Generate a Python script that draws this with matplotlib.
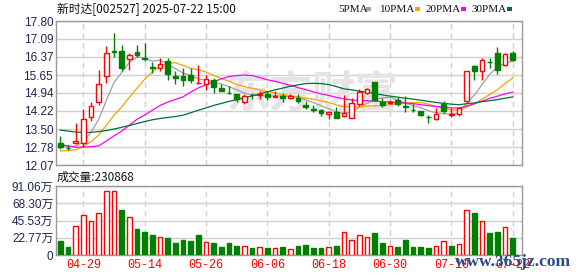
import matplotlib
matplotlib.use('Agg')
import matplotlib.pyplot as plt
from matplotlib.patches import Rectangle
import numpy as np

plt.rcParams['font.family'] = ['Liberation Sans', 'Noto Sans CJK SC']

# daily candles, 2025-04-24 .. 2025-07-22
opens = [12.96, 12.75, 12.94, 12.94, 13.99, 14.59, 15.60, 16.61, 16.61, 16.29,
         16.57, 16.34, 15.95, 15.94, 16.21, 15.60, 15.60, 15.65, 15.33, 15.28,
         15.47, 15.12, 14.95, 14.90, 14.56, 14.86, 14.85, 14.91, 14.78, 14.83,
         14.72, 14.73, 14.44, 14.28, 14.25, 14.10, 14.16, 14.00, 13.96, 14.49,
         14.95, 15.39, 14.56, 14.55, 14.65, 14.40, 14.26, 14.20, 13.99, 13.89,
         14.48, 14.07, 14.08, 14.61, 15.99, 15.83, 16.18, 16.52, 16.06, 16.52]
highs = [13.21, 12.88, 13.75, 14.28, 14.56, 15.87, 16.82, 17.33, 16.84, 16.53,
         16.86, 16.93, 16.17, 16.34, 16.34, 15.81, 15.91, 15.94, 16.03, 15.64,
         15.52, 15.28, 15.22, 14.91, 14.91, 14.95, 15.00, 15.00, 15.00, 14.95,
         14.91, 14.91, 14.62, 14.47, 14.29, 14.22, 14.39, 14.86, 14.72, 15.08,
         15.12, 15.39, 14.73, 14.65, 14.76, 14.81, 14.48, 14.22, 14.04, 14.35,
         14.61, 14.35, 14.39, 15.82, 16.06, 16.33, 16.33, 16.78, 16.53, 16.59]
lows = [12.71, 12.66, 12.91, 12.78, 13.81, 14.45, 15.35, 16.36, 15.81, 15.85,
        16.36, 16.21, 15.74, 15.81, 15.44, 15.28, 15.22, 15.35, 15.31, 15.04,
        14.95, 15.00, 14.89, 14.56, 14.49, 14.69, 14.69, 14.65, 14.76, 14.56,
        14.69, 14.52, 14.29, 14.16, 14.00, 13.90, 13.94, 13.99, 13.94, 14.43,
        14.89, 14.62, 14.39, 14.49, 14.43, 14.16, 14.17, 14.00, 13.75, 13.86,
        14.15, 13.98, 14.02, 14.58, 15.44, 15.47, 15.93, 15.70, 15.99, 16.19]
closes = [12.77, 12.73, 13.02, 13.92, 14.43, 15.31, 16.53, 16.55, 15.91, 16.43,
          16.44, 16.30, 15.92, 16.10, 15.68, 15.52, 15.44, 15.44, 15.35, 15.48,
          15.18, 15.02, 14.93, 14.69, 14.82, 14.84, 14.89, 14.78, 14.81, 14.72,
          14.81, 14.62, 14.36, 14.26, 14.12, 14.19, 13.96, 14.12, 14.52, 14.99,
          15.08, 14.65, 14.47, 14.59, 14.50, 14.38, 14.24, 14.04, 13.97, 14.11,
          14.21, 14.11, 14.35, 15.82, 15.80, 16.26, 16.16, 15.86, 16.50, 16.23]

ma5 = [12.86, 12.80, 12.82, 12.98, 13.37, 13.88, 14.64, 15.35, 15.75, 16.15,
       16.37, 16.33, 16.20, 16.24, 16.09, 15.90, 15.73, 15.64, 15.49, 15.45,
       15.38, 15.29, 15.19, 15.06, 14.93, 14.86, 14.83, 14.80, 14.83, 14.81,
       14.80, 14.75, 14.66, 14.55, 14.43, 14.31, 14.18, 14.13, 14.18, 14.36,
       14.53, 14.67, 14.74, 14.76, 14.66, 14.52, 14.44, 14.35, 14.23, 14.15,
       14.11, 14.09, 14.15, 14.52, 14.86, 15.27, 15.68, 15.98, 16.12, 16.20]
ma10 = [12.63, 12.64, 12.68, 12.81, 12.99, 13.26, 13.65, 14.05, 14.38, 14.76,
        15.13, 15.48, 15.77, 15.99, 16.12, 16.14, 16.03, 15.92, 15.86, 15.77,
        15.64, 15.51, 15.41, 15.27, 15.19, 15.12, 15.06, 15.00, 14.94, 14.87,
        14.83, 14.79, 14.73, 14.69, 14.62, 14.56, 14.46, 14.40, 14.37, 14.39,
        14.42, 14.43, 14.44, 14.47, 14.51, 14.53, 14.55, 14.55, 14.49, 14.40,
        14.32, 14.26, 14.25, 14.37, 14.50, 14.69, 14.88, 15.07, 15.32, 15.53]
ma20 = [12.88, 12.83, 12.78, 12.78, 12.80, 12.83, 13.03, 13.23, 13.42, 13.65,
        13.89, 14.06, 14.25, 14.44, 14.57, 14.68, 14.78, 14.97, 15.14, 15.26,
        15.38, 15.50, 15.59, 15.63, 15.65, 15.63, 15.55, 15.46, 15.40, 15.32,
        15.24, 15.15, 15.07, 14.98, 14.90, 14.84, 14.76, 14.70, 14.66, 14.63,
        14.63, 14.61, 14.59, 14.58, 14.56, 14.54, 14.51, 14.47, 14.43, 14.40,
        14.37, 14.34, 14.34, 14.42, 14.51, 14.61, 14.72, 14.81, 14.90, 14.97]
ma30 = [13.46, 13.42, 13.38, 13.37, 13.37, 13.40, 13.44, 13.50, 13.57, 13.64,
        13.72, 13.80, 13.87, 13.92, 13.96, 14.00, 14.05, 14.15, 14.25, 14.34,
        14.44, 14.52, 14.60, 14.67, 14.74, 14.82, 14.90, 14.98, 15.06, 15.13,
        15.20, 15.26, 15.31, 15.32, 15.31, 15.27, 15.19, 15.10, 15.06, 15.01,
        14.96, 14.91, 14.86, 14.81, 14.77, 14.73, 14.69, 14.65, 14.60, 14.56,
        14.52, 14.49, 14.47, 14.51, 14.54, 14.59, 14.63, 14.67, 14.73, 14.78]

# volume in 万 (10k), colour flag (1 = red / up)
volume = [18.9, 11.0, 38.3, 52.8, 44.9, 55.4, 84.5, 84.5, 59.4, 49.7,
          34.3, 30.8, 26.4, 23.3, 22.4, 16.3, 19.8, 18.5, 26.4, 17.2,
          15.8, 10.6, 15.8, 11.9, 11.9, 9.2, 10.1, 9.2, 8.8, 10.6,
          7.5, 11.9, 13.2, 9.2, 9.2, 10.1, 11.9, 30.4, 19.8, 26.0,
          23.3, 29.0, 15.8, 11.4, 10.6, 19.8, 10.6, 10.6, 9.2, 11.9,
          18.5, 11.9, 14.5, 59.4, 55.9, 44.9, 29.0, 30.8, 37.0, 23.09]
vol_up = [0, 0, 1, 1, 1, 1, 1, 1, 0, 1,
          0, 0, 0, 1, 0, 0, 0, 0, 0, 1,
          0, 0, 0, 0, 1, 0, 1, 0, 1, 0,
          1, 0, 0, 0, 0, 1, 0, 1, 1, 1,
          1, 0, 0, 1, 0, 0, 0, 0, 0, 1,
          1, 0, 1, 1, 0, 1, 0, 0, 1, 0]

tick_idx = [3, 11, 19, 27, 35, 43, 51, 59]
tick_labels = ['04-29', '05-14', '05-26', '06-06', '06-18', '06-30', '07-10', '07-22']
price_ticks = [12.07, 12.78, 13.50, 14.22, 14.94, 15.65, 16.37, 17.09, 17.80]
vol_ticks = [0, 22.77, 45.53, 68.30, 91.06]
vol_tick_labels = ['0', '22.77万', '45.53万', '68.30万', '91.06万']

RED = '#ff0000'
GREEN = '#008000'
GRID = '#d0d0d0'
SPINE = '#999999'
LABEL = '#1c2456'
ma_colors = ['#a0a0a0', '#f5a300', '#ff00ff', '#006e33']

fig = plt.figure(figsize=(5.78, 2.76), dpi=100)
W, H = 578.0, 276.0
x0, x1 = 56, 522
ax = fig.add_axes([x0 / W, 1 - 165 / H, (x1 - x0) / W, 144 / H])
axv = fig.add_axes([x0 / W, 1 - 255 / H, (x1 - x0) / W, 69 / H])

n = len(closes)
xs = np.arange(n)
bw = 0.6
xlim = (-0.56, n + 0.2)


def style(a, yt, ylab):
    a.set_xlim(*xlim)
    a.set_yticks(yt)
    a.set_yticklabels(ylab)
    a.set_xticks(tick_idx)
    a.tick_params(length=0, pad=2, labelsize=8.5, labelcolor=LABEL)
    for s in a.spines.values():
        s.set_color(SPINE)
        s.set_linewidth(1)
    a.grid(axis='y', color=GRID, lw=1, ls='-')
    a.grid(axis='x', color=GRID, lw=1, ls=(0, (4, 3)))
    a.set_axisbelow(True)


# price panel
style(ax, price_ticks, ['%.2f' % v for v in price_ticks])
ax.set_ylim(price_ticks[0], price_ticks[-1])
ax.set_xticklabels([])

# faint site watermark behind the candles
ax.text(0.55, 0.49, '东方财富', transform=ax.transAxes, fontsize=31,
        color='#e4e4e4', ha='center', va='center', style='italic',
        fontweight='bold', family=['Noto Sans CJK SC'], zorder=1)

for ma, col in zip([ma5, ma10, ma20, ma30], ma_colors):
    ax.plot(xs, ma, color=col, lw=0.9, zorder=2)

for i in range(n):
    o, h, l, c = opens[i], highs[i], lows[i], closes[i]
    up = c >= o
    col = RED if up else GREEN
    ax.vlines(i, l, h, color=col, lw=1, zorder=3)
    ax.add_patch(Rectangle((i - bw / 2, min(o, c)), bw, max(abs(c - o), 0.02),
                           facecolor='white' if up else col, edgecolor=col,
                           lw=1, zorder=4))

# volume panel
style(axv, vol_ticks, vol_tick_labels)
axv.set_ylim(0, vol_ticks[-1])
axv.set_xticklabels(tick_labels, family=['Liberation Mono'], fontsize=8.5)
axv.tick_params(axis='x', labelcolor=RED, pad=3)
for i in range(n):
    col = RED if vol_up[i] else GREEN
    axv.bar(i, volume[i], width=bw, facecolor='white' if vol_up[i] else col,
            edgecolor=col, lw=1, zorder=3)

# titles and legend
fig.text(57 / W, 1 - 10 / H, '新时达[002527] 2025-07-22 15:00', fontsize=8.5,
         family=['Noto Sans CJK SC'], va='center', ha='left', color='#111111')
fig.text(57 / W, 1 - 177 / H, '成交量:230868', fontsize=8.5,
         family=['Noto Sans CJK SC'], va='center', ha='left', color='#111111')

leg_x = [338, 380, 426, 472]
for lx, name, col in zip(leg_x, ['5PMA', '10PMA', '20PMA', '30PMA'], ma_colors):
    fig.text(lx / W, 1 - 9 / H, name, fontsize=8, family=['Liberation Serif'],
             va='center', ha='left', color='#111111')
    wpx = 6.3 * len(name)
    fig.patches.append(Rectangle(((lx + wpx + 3) / W, 1 - 10.5 / H), 5 / W, 3 / H,
                                 facecolor=col, edgecolor='none',
                                 transform=fig.transFigure, figure=fig))

fig.text(513 / W, 1 - 262 / H, 'www.365jz.com', fontsize=12.5,
         family=['Liberation Serif'], fontweight='bold', color='#2a4a8c',
         va='center', ha='center')

fig.savefig('out.png', dpi=100)
